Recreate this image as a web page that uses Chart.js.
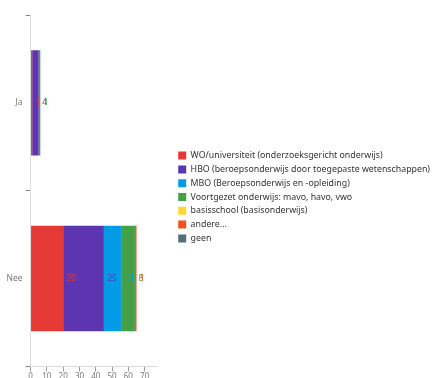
<!DOCTYPE html>
<html>
<head>
<meta charset="utf-8">
<script src="https://cdn.jsdelivr.net/npm/chart.js@4/dist/chart.umd.min.js"></script>
<style>
  html, body { margin: 0; padding: 0; overflow: hidden; background: #fff; }
  #wrap { width: 433px; height: 383px; position: relative; }
</style>
</head>
<body>
<div id="wrap"><canvas id="chart"></canvas></div>
<script>
// Answer categories (y axis)
const categories = ['Ja', 'Nee'];

// Education level series, one value per category
const seriesNames = [
  'WO/universiteit (onderzoeksgericht onderwijs)',
  'HBO (beroepsonderwijs door toegepaste wetenschappen)',
  'MBO (Beroepsonderwijs en -opleiding)',
  'Voortgezet onderwijs: mavo, havo, vwo',
  'basisschool (basisonderwijs)',
  'andere...',
  'geen'
];
const woUniversiteit = [1, 20];
const hbo = [4, 25];
const mbo = [0, 11];
const voortgezet = [1, 8];
const basisschool = [0, 0];
const andere = [0, 1];
const geen = [0, 0];

// Value axis
const xTickValues = [0, 10, 20, 30, 40, 50, 60, 70];
const xMax = 78;

const seriesValues = [woUniversiteit, hbo, mbo, voortgezet, basisschool, andere, geen];
const seriesColors = ['#e53935', '#5e35b1', '#039be5', '#43a047', '#fdd835', '#f4511e', '#546e7a'];

const FONT = '"Noto Sans", "Open Sans", sans-serif';

// Writes each segment's value just past its right end, in the segment colour
const segmentLabels = {
  id: 'segmentLabels',
  afterDatasetsDraw(chart) {
    const ctx = chart.ctx;
    ctx.save();
    ctx.font = '8px ' + FONT;
    ctx.textAlign = 'left';
    ctx.textBaseline = 'middle';
    chart.data.datasets.forEach((ds, i) => {
      const meta = chart.getDatasetMeta(i);
      if (meta.hidden) return;
      meta.data.forEach((bar, j) => {
        const v = ds.data[j];
        if (!v) return;
        ctx.fillStyle = ds.backgroundColor;
        ctx.fillText(String(v), bar.x + 3.5, bar.y);
      });
    });
    ctx.restore();
  }
};

// Adjusts the legend's reserved width and nudges its entries
const legendPlacement = {
  id: 'legendPlacement',
  afterInit(chart, args, opts) {
    const legend = chart.legend;
    const fit = legend.fit;
    legend.fit = function () { fit.call(this); this.width += opts.extraWidth; };
  },
  afterLayout(chart, args, opts) {
    const legend = chart.legend;
    legend.left += opts.shiftX;
    legend.top += opts.shiftY;
    legend.bottom += opts.shiftY;
  }
};

new Chart(document.getElementById('chart'), {
  type: 'bar',
  data: {
    labels: categories,
    datasets: seriesNames.map((name, i) => ({
      label: name,
      data: seriesValues[i],
      backgroundColor: seriesColors[i],
      borderWidth: 0,
      categoryPercentage: 0.6,
      barPercentage: 1.0
    }))
  },
  options: {
    indexAxis: 'y',
    responsive: true,
    maintainAspectRatio: false,
    animation: false,
    layout: { padding: { top: 15, left: 3.5, right: 0, bottom: 0 } },
    scales: {
      x: {
        stacked: true,
        min: 0,
        max: xMax,
        afterBuildTicks(scale) { scale.ticks = xTickValues.map(v => ({ value: v })); },
        grid: { drawOnChartArea: false, tickLength: 5, tickColor: '#999' },
        border: { color: '#ddd' },
        ticks: { padding: 1, color: '#777', font: { family: FONT, size: 8 }, maxRotation: 0 }
      },
      y: {
        stacked: true,
        grid: { drawOnChartArea: false, tickLength: 5, tickColor: '#888' },
        border: { color: '#ddd' },
        ticks: { padding: 3, color: '#777', font: { family: FONT, size: 8.5 } }
      }
    },
    plugins: {
      legend: {
        position: 'right',
        maxWidth: 320,
        labels: {
          boxWidth: 8,
          boxHeight: 8,
          padding: 5,
          color: '#333',
          font: { family: FONT, size: 8.8 }
        }
      },
      legendPlacement: { extraWidth: 8.5, shiftX: 15.5, shiftY: -2 },
      tooltip: { enabled: false }
    }
  },
  plugins: [segmentLabels, legendPlacement]
});
</script>
</body>
</html>
